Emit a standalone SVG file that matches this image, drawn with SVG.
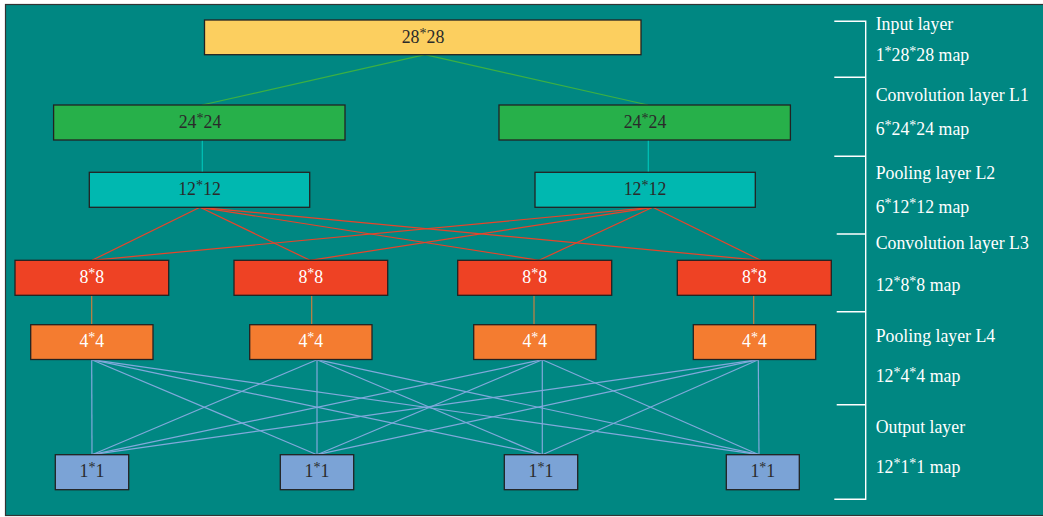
<svg xmlns="http://www.w3.org/2000/svg" width="1043" height="517" viewBox="0 0 1043 517">
<style>
.box{stroke:#222;stroke-width:1.3}
.t{font-family:"Liberation Serif","Times New Roman",serif;font-size:17.8px;text-anchor:middle}
.dk{fill:#2a2a2a}
.wt{fill:#ffffff}
.lbl{font-family:"Liberation Serif","Times New Roman",serif;font-size:17.8px;fill:#ffffff}
.a{font-size:14px}
.br{stroke:#ffffff;stroke-width:1.4;fill:none}
</style>
<rect x="0" y="0" width="1043" height="517" fill="#ffffff"/>
<rect x="5.5" y="4.5" width="1045" height="511" fill="#008782" stroke="#333" stroke-width="1.2"/>
<g id="connectors" fill="none">
  <g stroke="#3cb043" stroke-width="1.2">
    <line x1="425" y1="54.7" x2="202" y2="105"/>
    <line x1="425" y1="54.7" x2="648" y2="105"/>
  </g>
  <g stroke="#00c2b8" stroke-width="1.2">
    <line x1="202.3" y1="140" x2="202.3" y2="172.3"/>
    <line x1="648.3" y1="140" x2="648.3" y2="172.3"/>
  </g>
  <g stroke="#e8442a" stroke-width="1.2">
    <line x1="200" y1="207.3" x2="92" y2="260.3"/>
    <line x1="200" y1="207.3" x2="310" y2="260.3"/>
    <line x1="200" y1="207.3" x2="539" y2="260.3"/>
    <line x1="200" y1="207.3" x2="760.7" y2="260.3"/>
    <line x1="652.7" y1="207.3" x2="92" y2="260.3"/>
    <line x1="652.7" y1="207.3" x2="310" y2="260.3"/>
    <line x1="652.7" y1="207.3" x2="539" y2="260.3"/>
    <line x1="652.7" y1="207.3" x2="760.7" y2="260.3"/>
  </g>
  <g stroke="#c8813e" stroke-width="1.2">
    <line x1="91.7" y1="295.3" x2="91.7" y2="324.7"/>
    <line x1="311.7" y1="295.3" x2="311.7" y2="324.7"/>
    <line x1="534" y1="295.3" x2="534" y2="324.7"/>
    <line x1="753.7" y1="295.3" x2="753.7" y2="324.7"/>
  </g>
  <g stroke="#80a9dc" stroke-width="1.2">
    <line x1="91.7" y1="359.7" x2="92" y2="454.7"/>
    <line x1="91.7" y1="359.7" x2="317" y2="454.7"/>
    <line x1="91.7" y1="359.7" x2="542.3" y2="454.7"/>
    <line x1="91.7" y1="359.7" x2="759" y2="454.7"/>
    <line x1="317" y1="359.7" x2="92" y2="454.7"/>
    <line x1="317" y1="359.7" x2="317" y2="454.7"/>
    <line x1="317" y1="359.7" x2="542.3" y2="454.7"/>
    <line x1="317" y1="359.7" x2="759" y2="454.7"/>
    <line x1="542.3" y1="359.7" x2="92" y2="454.7"/>
    <line x1="542.3" y1="359.7" x2="317" y2="454.7"/>
    <line x1="542.3" y1="359.7" x2="542.3" y2="454.7"/>
    <line x1="542.3" y1="359.7" x2="759" y2="454.7"/>
    <line x1="758.3" y1="359.7" x2="92" y2="454.7"/>
    <line x1="758.3" y1="359.7" x2="317" y2="454.7"/>
    <line x1="758.3" y1="359.7" x2="542.3" y2="454.7"/>
    <line x1="758.3" y1="359.7" x2="759" y2="454.7"/>
  </g>
</g>
<g id="input"><rect class="box" x="204.5" y="20" width="436.5" height="34.7" fill="#fccf5f"/><text class="t dk" x="423" y="42.5">28<tspan class="a" dy="-5">*</tspan><tspan dy="5">28</tspan></text></g>
<g id="l1a"><rect class="box" x="53.6" y="105" width="291.4" height="35" fill="#27b04a"/><text class="t dk" x="200" y="127.5">24<tspan class="a" dy="-5">*</tspan><tspan dy="5">24</tspan></text></g>
<g id="l1b"><rect class="box" x="499" y="105" width="291.4" height="35" fill="#27b04a"/><text class="t dk" x="645" y="127.5">24<tspan class="a" dy="-5">*</tspan><tspan dy="5">24</tspan></text></g>
<g id="l2a"><rect class="box" x="89.3" y="172.3" width="220.4" height="35" fill="#00b8b0"/><text class="t dk" x="199.5" y="194.5">12<tspan class="a" dy="-5">*</tspan><tspan dy="5">12</tspan></text></g>
<g id="l2b"><rect class="box" x="535" y="172.3" width="220.3" height="35" fill="#00b8b0"/><text class="t dk" x="645" y="194.5">12<tspan class="a" dy="-5">*</tspan><tspan dy="5">12</tspan></text></g>
<g id="l3a"><rect class="box" x="15" y="260.3" width="153.7" height="35" fill="#ee4224"/><text class="t wt" x="91.8" y="282.5">8<tspan class="a" dy="-5">*</tspan><tspan dy="5">8</tspan></text></g>
<g id="l3b"><rect class="box" x="234" y="260.3" width="153.7" height="35" fill="#ee4224"/><text class="t wt" x="310.8" y="282.5">8<tspan class="a" dy="-5">*</tspan><tspan dy="5">8</tspan></text></g>
<g id="l3c"><rect class="box" x="457.7" y="260.3" width="154" height="35" fill="#ee4224"/><text class="t wt" x="534.7" y="282.5">8<tspan class="a" dy="-5">*</tspan><tspan dy="5">8</tspan></text></g>
<g id="l3d"><rect class="box" x="677.3" y="260.3" width="154" height="35" fill="#ee4224"/><text class="t wt" x="754.3" y="282.5">8<tspan class="a" dy="-5">*</tspan><tspan dy="5">8</tspan></text></g>
<g id="l4a"><rect class="box" x="30.7" y="324.7" width="122.3" height="34.8" fill="#f47c30"/><text class="t wt" x="91.8" y="346.8">4<tspan class="a" dy="-5">*</tspan><tspan dy="5">4</tspan></text></g>
<g id="l4b"><rect class="box" x="249.7" y="324.7" width="122.3" height="34.8" fill="#f47c30"/><text class="t wt" x="310.8" y="346.8">4<tspan class="a" dy="-5">*</tspan><tspan dy="5">4</tspan></text></g>
<g id="l4c"><rect class="box" x="473.7" y="324.7" width="122.3" height="34.8" fill="#f47c30"/><text class="t wt" x="534.8" y="346.8">4<tspan class="a" dy="-5">*</tspan><tspan dy="5">4</tspan></text></g>
<g id="l4d"><rect class="box" x="693.3" y="324.7" width="122.4" height="34.8" fill="#f47c30"/><text class="t wt" x="754.5" y="346.8">4<tspan class="a" dy="-5">*</tspan><tspan dy="5">4</tspan></text></g>
<g id="outa"><rect class="box" x="55.3" y="454.7" width="73.4" height="35" fill="#7ba3d6"/><text class="t dk" x="92" y="476.8">1<tspan class="a" dy="-5">*</tspan><tspan dy="5">1</tspan></text></g>
<g id="outb"><rect class="box" x="280.3" y="454.7" width="73.4" height="35" fill="#7ba3d6"/><text class="t dk" x="317" y="476.8">1<tspan class="a" dy="-5">*</tspan><tspan dy="5">1</tspan></text></g>
<g id="outc"><rect class="box" x="504.3" y="454.7" width="73.4" height="35" fill="#7ba3d6"/><text class="t dk" x="541" y="476.8">1<tspan class="a" dy="-5">*</tspan><tspan dy="5">1</tspan></text></g>
<g id="outd"><rect class="box" x="726.3" y="454.7" width="73" height="35" fill="#7ba3d6"/><text class="t dk" x="762.8" y="476.8">1<tspan class="a" dy="-5">*</tspan><tspan dy="5">1</tspan></text></g>
<g id="bracket">
  <path class="br" d="M834.3 21.3 H865.7 V499.3 H834.3"/>
  <path class="br" d="M834.3 77.3 H865.7 M834.3 156.3 H865.7 M836.7 234 H865.7 M836.7 311.7 H865.7 M836.7 404.7 H865.7"/>
</g>
<g id="labels">
  <text class="lbl" x="875.7" y="30">Input layer</text>
  <text class="lbl" x="875.7" y="61">1<tspan class="a" dy="-5">*</tspan><tspan dy="5">28</tspan><tspan class="a" dy="-5">*</tspan><tspan dy="5">28 map</tspan></text>
  <text class="lbl" x="875.7" y="101">Convolution layer L1</text>
  <text class="lbl" x="875.7" y="135">6<tspan class="a" dy="-5">*</tspan><tspan dy="5">24</tspan><tspan class="a" dy="-5">*</tspan><tspan dy="5">24 map</tspan></text>
  <text class="lbl" x="875.7" y="179">Pooling layer L2</text>
  <text class="lbl" x="875.7" y="213">6<tspan class="a" dy="-5">*</tspan><tspan dy="5">12</tspan><tspan class="a" dy="-5">*</tspan><tspan dy="5">12 map</tspan></text>
  <text class="lbl" x="875.7" y="248.7">Convolution layer L3</text>
  <text class="lbl" x="875.7" y="290.7">12<tspan class="a" dy="-5">*</tspan><tspan dy="5">8</tspan><tspan class="a" dy="-5">*</tspan><tspan dy="5">8 map</tspan></text>
  <text class="lbl" x="875.7" y="341.7">Pooling layer L4</text>
  <text class="lbl" x="875.7" y="381.7">12<tspan class="a" dy="-5">*</tspan><tspan dy="5">4</tspan><tspan class="a" dy="-5">*</tspan><tspan dy="5">4 map</tspan></text>
  <text class="lbl" x="875.7" y="432.7">Output layer</text>
  <text class="lbl" x="875.7" y="473.3">12<tspan class="a" dy="-5">*</tspan><tspan dy="5">1</tspan><tspan class="a" dy="-5">*</tspan><tspan dy="5">1 map</tspan></text>
</g>
</svg>
